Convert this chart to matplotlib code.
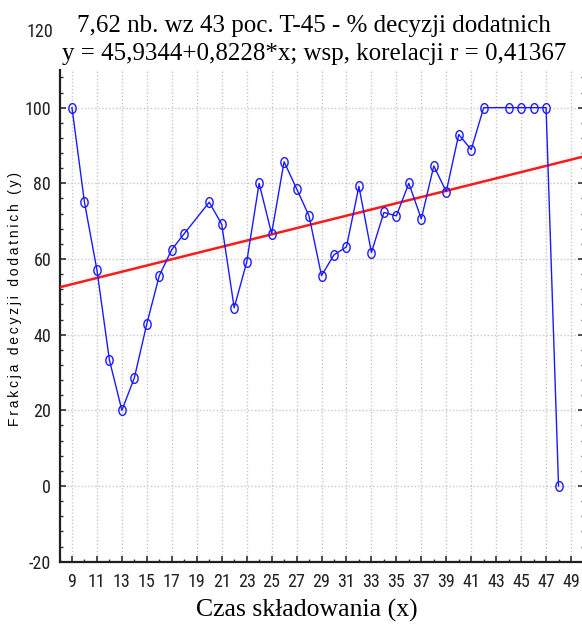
import matplotlib
matplotlib.use("Agg")
import matplotlib.pyplot as plt
import matplotlib.transforms as mtransforms
from matplotlib.ticker import MultipleLocator
from matplotlib import font_manager
from matplotlib.path import Path
import numpy as np

# storage time (x) and fraction of positive decisions (y)
czas = [9, 10, 11, 12, 13, 14, 15, 16, 17, 18, 20, 21, 22, 23, 24, 25, 26, 27, 28,
        29, 30, 31, 32, 33, 34, 35, 36, 37, 38, 39, 40, 41, 42, 44, 45, 46, 47, 48]
frakcja = [100, 75, 57.1, 33.3, 20, 28.6, 42.9, 55.6, 62.5, 66.7, 75, 69.2, 47.1,
           59.1, 80, 66.7, 85.7, 78.6, 71.4, 55.6, 61.1, 63.2, 79.2, 61.7, 72.3,
           71.4, 80, 70.6, 84.6, 77.8, 92.9, 88.9, 100, 100, 100, 100, 100, 0]

# fitted linear regression
a0 = 45.9344
a1 = 0.8228
r_kor = 0.41367

x_ticks = list(range(9, 50, 2))
y_ticks = [-20, 0, 20, 40, 60, 80, 100]

plt.rcParams["axes.unicode_minus"] = False


def condensed_font():
    """Pick a narrow sans face for the tick numbers, if one is installed."""
    fonts = font_manager.fontManager.ttflist
    for key in ["LiberationSansNarrow-Regular", "RobotoCondensed-Regular",
                "DejaVuSansCondensed.", "OpenSans_Condensed-Regular",
                "OpenSansCondensed-Regular"]:
        for f in fonts:
            if key.lower() in f.fname.lower():
                return font_manager.FontProperties(fname=f.fname)
    for f in fonts:
        if f.name == "DejaVu Sans" and "condensed" in str(f.stretch).lower() \
                and f.style == "normal" and f.weight in (400, "normal"):
            return font_manager.FontProperties(fname=f.fname)
    return font_manager.FontProperties(family="Liberation Sans")


tick_fp = condensed_font()
tick_fp.set_size(13)

# open elliptical marker, slightly taller than wide
t = np.linspace(0, 2 * np.pi, 41)
ellipse = Path(np.column_stack([0.75 * np.cos(t), np.sin(t)]))

W, H = 582, 625
fig = plt.figure(figsize=(W / 100, H / 100), dpi=100)
ax = fig.add_axes([59.5 / W, 63.3 / H, 524 / W, 491.9 / H])

ax.set_xlim(8, 50)
ax.set_ylim(-20, 110)

# regression line across the whole axis
xl = ax.get_xlim()
ax.plot(xl, [a0 + a1 * xl[0], a0 + a1 * xl[1]], color="#ff1a1a", lw=1.8, zorder=3)

# observed series
ax.plot(czas, frakcja, color="#1a1aff", lw=1.0, marker=ellipse, ms=7.0,
        mfc="none", mec="#1a1aff", mew=1.0, zorder=4)

ax.set_xticks(x_ticks)
ax.set_yticks(y_ticks)
ax.xaxis.set_minor_locator(MultipleLocator(1))
ax.yaxis.set_minor_locator(MultipleLocator(4))
ax.grid(True, which="major", color="#c8c8c8", linestyle=(0, (1, 1.5)), lw=1.0)

for s in ["top", "right"]:
    ax.spines[s].set_visible(False)
for s in ["left", "bottom"]:
    ax.spines[s].set_linewidth(1.6)
    ax.spines[s].set_color("#202020")

ax.tick_params(axis="both", which="major", direction="in", length=4, width=1.2,
               color="#303030", right=True)
ax.tick_params(axis="both", which="minor", direction="in", length=2.5, width=1.0,
               color="#303030", right=True)
ax.tick_params(axis="x", which="major", pad=8)
ax.tick_params(axis="y", which="major", pad=6)
for lab in ax.get_xticklabels() + ax.get_yticklabels():
    lab.set_fontproperties(tick_fp)
    lab.set_color("#202020")

# the 120 label sits above the plotted range
trans = mtransforms.blended_transform_factory(ax.transAxes, ax.transData)
ax.text(-6.5 / 524, 120, "120", transform=trans, ha="right", va="center",
        fontproperties=tick_fp, color="#202020", clip_on=False)

serif = "Liberation Serif"
fig.text(314 / W, 1 - 32 / H, "7,62 nb. wz 43 poc. T-45 - % decyzji dodatnich",
         ha="center", va="baseline", fontsize=18, fontfamily=serif)
fig.text(314 / W, 1 - 60 / H,
         f"y = {a0:.4f}+{a1:.4f}*x; wsp. korelacji r = {r_kor:.5f}".replace(".", ","),
         ha="center", va="baseline", fontsize=18, fontfamily=serif)

fig.text(306.5 / W, 1 - 617 / H, "Czas składowania (x)", ha="center", va="baseline",
         fontsize=18.5, fontfamily=serif)

ylab = "\u2009".join("Frakcja decyzji dodatnich (y)")
fig.text(15 / W, 1 - 298.5 / H, ylab, rotation=90, ha="center", va="center",
         fontsize=10, fontfamily="Liberation Sans")

fig.savefig("out.png", dpi=100)
